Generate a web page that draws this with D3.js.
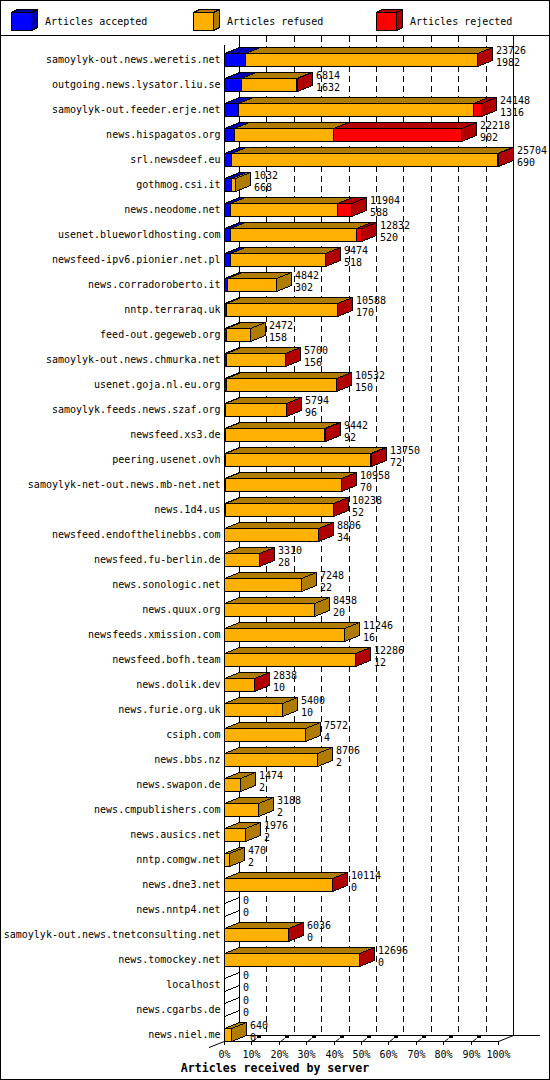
<!DOCTYPE html>
<html><head><meta charset="utf-8">
<script src="https://cdn.jsdelivr.net/npm/d3@7"></script>
<style>
body{margin:0;background:#fff}
svg{display:block}
text{font-family:"DejaVu Sans Mono","Liberation Mono",monospace;fill:#000}
</style>
</head><body>
<svg id="c" width="550" height="1080"></svg>
<script>
const servers = [
  "samoylyk-out.news.weretis.net","outgoing.news.lysator.liu.se","samoylyk-out.feeder.erje.net",
  "news.hispagatos.org","srl.newsdeef.eu","gothmog.csi.it","news.neodome.net",
  "usenet.blueworldhosting.com","newsfeed-ipv6.pionier.net.pl","news.corradoroberto.it",
  "nntp.terraraq.uk","feed-out.gegeweb.org","samoylyk-out.news.chmurka.net","usenet.goja.nl.eu.org",
  "samoylyk.feeds.news.szaf.org","newsfeed.xs3.de","peering.usenet.ovh","samoylyk-net-out.news.mb-net.net",
  "news.1d4.us","newsfeed.endofthelinebbs.com","newsfeed.fu-berlin.de","news.sonologic.net",
  "news.quux.org","newsfeeds.xmission.com","newsfeed.bofh.team","news.dolik.dev","news.furie.org.uk",
  "csiph.com","news.bbs.nz","news.swapon.de","news.cmpublishers.com","news.ausics.net","nntp.comgw.net",
  "news.dne3.net","news.nntp4.net","samoylyk-out.news.tnetconsulting.net","news.tomockey.net",
  "localhost","news.cgarbs.de","news.niel.me"
];
const accepted = [1982,1632,1316,902,690,668,588,520,518,302,170,158,156,150,96,92,72,70,52,34,28,22,20,16,12,10,10,4,2,2,2,2,2,0,0,0,0,0,0,0];
const refused  = [21724,5162,22042,9350,24874,364,10036,11832,8936,4540,10398,2314,5524,10362,5678,9330,13658,10868,10166,8752,3262,7226,8438,11230,12254,2808,5390,7568,8704,1472,3186,1974,468,10094,0,6016,12676,0,0,640];
const rejected = [20,20,790,11966,140,0,1280,480,20,0,20,0,20,20,20,20,20,20,20,20,20,0,0,0,20,20,0,0,0,0,0,0,0,20,0,20,20,0,0,0];
const seriesNames  = ["Articles accepted","Articles refused","Articles rejected"];
const seriesColors = ["#0000ff","#ffb000","#ff0000"];
const seriesDark   = ["#0000b0","#b07c00","#b00000"];
const pctTicks = [0,10,20,30,40,50,60,70,80,90,100];
const xTitle = "Articles received by server";

const DX = 15, DY = -6, BH = 13;
const svg = d3.select("#c");

svg.append("rect").attr("x",0.5).attr("y",0.5).attr("width",549).attr("height",1079)
  .attr("fill","#fff").attr("stroke","#000");
svg.append("line").attr("x1",0).attr("x2",550).attr("y1",35.5).attr("y2",35.5).attr("stroke","#000");

// Legend
const legX = [11,193,376];
seriesNames.forEach((n,k)=>{
  const g = svg.append("g").attr("shape-rendering","crispEdges");
  const x0 = legX[k]+0.5, y0 = 12.5, w = 20, h = 18, dx = 6, dy = -3;
  g.append("polygon").attr("points",[[x0,y0],[x0+w,y0],[x0+w+dx,y0+dy],[x0+dx,y0+dy]].join(" "))
    .attr("fill",seriesDark[k]).attr("stroke","#000");
  g.append("polygon").attr("points",[[x0+w,y0],[x0+w+dx,y0+dy],[x0+w+dx,y0+h+dy],[x0+w,y0+h]].join(" "))
    .attr("fill",seriesDark[k]).attr("stroke","#000");
  g.append("rect").attr("x",x0).attr("y",y0).attr("width",w).attr("height",h)
    .attr("fill",seriesColors[k]).attr("stroke","#000");
  svg.append("text").attr("x",legX[k]+34).attr("y",24.5).attr("font-size","10px").text(n);
});

const totals = servers.map((s,i)=>accepted[i]+refused[i]+rejected[i]);
const maxT = d3.max(totals);
const x = d3.scaleLinear().domain([0,maxT]).range([224,498]);
const xp = d3.scaleLinear().domain([0,100]).range([224,498]);
const y = d3.scalePoint().domain(servers).range([59.5,1034.5]);
const px = v => Math.round(x(v))+0.5;

const floorY = 1041.5, backFloorY = floorY+DY;
const walls = svg.append("g").attr("stroke","#000").attr("shape-rendering","crispEdges");

// dashed grid on back wall
pctTicks.filter(p=>p>0 && p<100).forEach(p=>{
  const gx = Math.round(xp(p))+DX+0.5;
  walls.append("line").attr("x1",gx).attr("x2",gx).attr("y1",36).attr("y2",backFloorY)
    .attr("stroke-dasharray","6,4");
});
const x0f = Math.round(xp(0))+0.5, x1f = Math.round(xp(100))+0.5;
walls.append("line").attr("x1",x0f+DX).attr("x2",x0f+DX).attr("y1",36).attr("y2",backFloorY);
walls.append("line").attr("x1",x1f+DX).attr("x2",x1f+DX).attr("y1",36).attr("y2",backFloorY);
walls.append("line").attr("x1",x0f).attr("x2",x0f).attr("y1",45).attr("y2",floorY);
walls.append("line").attr("x1",x0f).attr("x2",x1f).attr("y1",floorY).attr("y2",floorY);
walls.append("line").attr("x1",x0f+DX).attr("x2",540).attr("y1",backFloorY).attr("y2",backFloorY);
const diag = svg.append("g").attr("stroke","#000");
diag.append("line").attr("x1",209).attr("y1",1047.5).attr("x2",x0f+DX).attr("y2",backFloorY);
diag.append("line").attr("x1",x1f).attr("y1",floorY).attr("x2",x1f+DX).attr("y2",backFloorY);

// ticks
pctTicks.forEach(p=>{
  const tx = Math.round(xp(p))+0.5;
  walls.append("line").attr("x1",tx).attr("x2",tx).attr("y1",floorY).attr("y2",1045);
  if(p>0 && p<100){
    diag.append("line").attr("x1",tx+0.5).attr("y1",1042).attr("x2",tx+5).attr("y2",1038.5);
    svg.append("rect").attr("x",tx+5.5).attr("y",1035).attr("width",4).attr("height",3).attr("fill","#000");
  }
  svg.append("text").attr("x",tx).attr("y",1058).attr("text-anchor","middle")
    .attr("font-size","10px").text(p+"%");
});

// bars
const series = [accepted, refused, rejected];
const bars = svg.append("g").attr("stroke","#000").attr("shape-rendering","crispEdges");
servers.forEach((s,i)=>{
  const cy = y(s);
  const yt = Math.round(cy-6.5)+0.5, yb = yt+BH;
  const endFace = (xe,fill)=>bars.append("polygon")
    .attr("points",[[xe,yt],[xe+DX,yt+DY],[xe+DX,yb+DY],[xe,yb]].join(" ")).attr("fill",fill);
  if(totals[i]===0){ endFace(px(0),"#fff"); }
  let cum = 0;
  series.forEach((arr,k)=>{
    const v = arr[i];
    if(v<=0) return;
    const xa = px(cum), xb = px(cum+v);
    bars.append("rect").attr("x",xa).attr("y",yt).attr("width",xb-xa).attr("height",BH)
      .attr("fill",seriesColors[k]);
    bars.append("polygon").attr("points",[[xa,yt],[xb,yt],[xb+DX,yt+DY],[xa+DX,yt+DY]].join(" "))
      .attr("fill",seriesDark[k]);
    endFace(xb,seriesDark[k]);
    cum += v;
  });
  const lx = Math.round(x(totals[i]))+DX+4;
  svg.append("text").attr("x",lx).attr("y",cy-6).attr("font-size","10px").text(totals[i]);
  svg.append("text").attr("x",lx).attr("y",cy+6).attr("font-size","10px").text(accepted[i]);
  svg.append("text").attr("x",220.5).attr("y",cy+3.5).attr("text-anchor","end")
    .attr("font-size","10px").text(s);
});

svg.append("text").attr("x",275).attr("y",1072).attr("text-anchor","middle")
  .attr("font-size","11.6px").attr("font-weight","bold").text(xTitle);
</script>
</body></html>
